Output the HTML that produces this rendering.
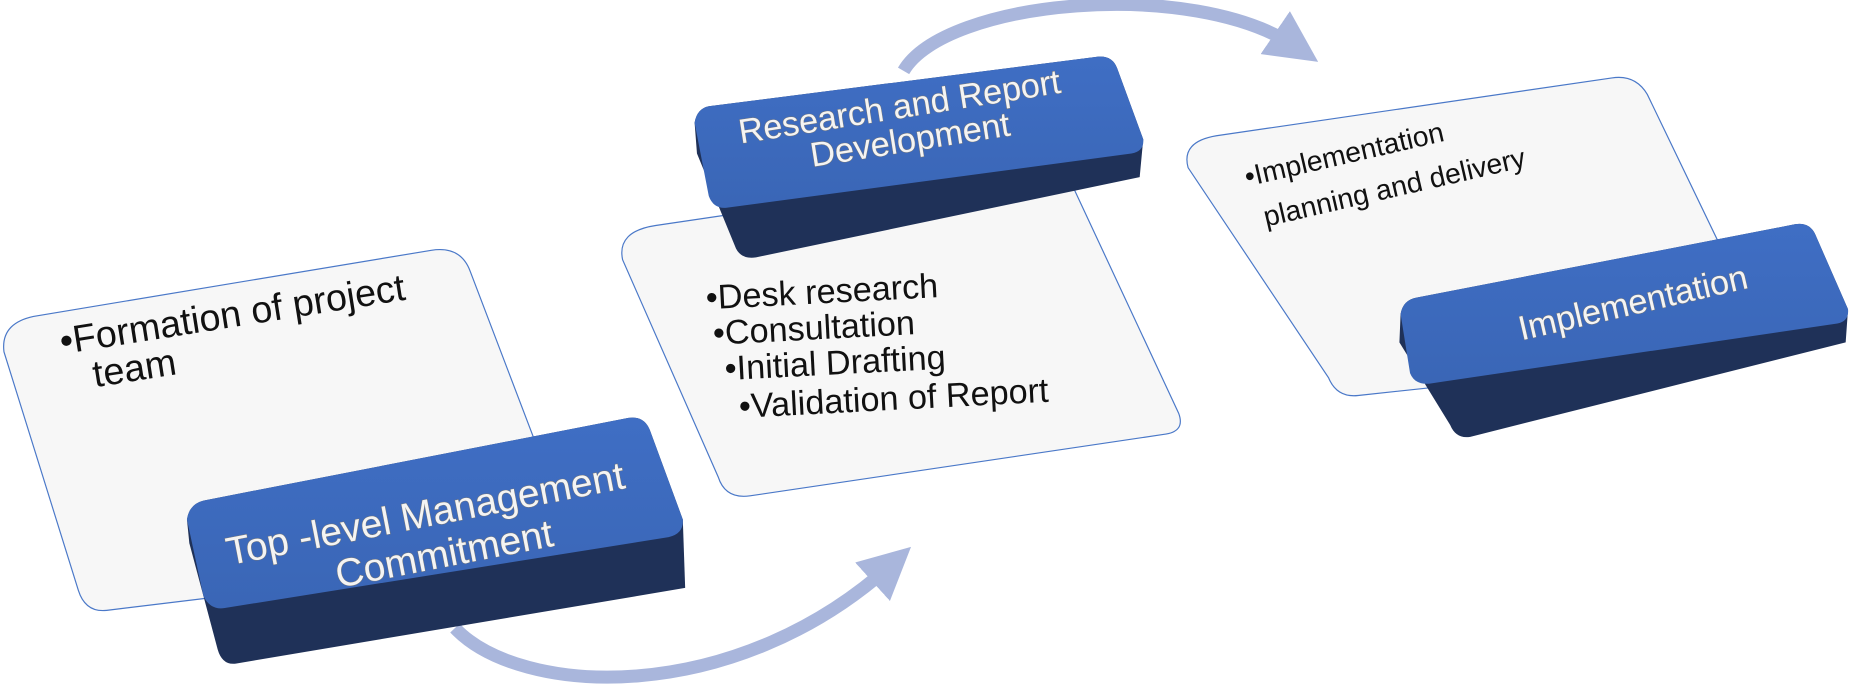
<!DOCTYPE html>
<html><head><meta charset="utf-8"><style>
html,body{margin:0;padding:0;background:#fff;width:1852px;height:693px;overflow:hidden}
svg{display:block}
.t{font-family:"Liberation Sans",sans-serif;fill:#111}
.w{font-family:"Liberation Sans",sans-serif;fill:#f4f4f4;stroke:#777;stroke-width:0.8;paint-order:stroke}
</style></head><body>
<svg width="1852" height="693" viewBox="0 0 1568 587" xmlns="http://www.w3.org/2000/svg">
<defs>
<marker id="ah" markerWidth="4" markerHeight="4" refX="2" refY="2" orient="auto" markerUnits="strokeWidth">
<path d="M0,0 L4,2 L0,4 z" fill="#a9b6dc"/></marker>
<linearGradient id="bt" x1="0" y1="0" x2="0" y2="1"><stop offset="0" stop-color="#3f6ec4"/><stop offset="1" stop-color="#3a66b6"/></linearGradient>
</defs>
<path d="M385,532 C440,590 620,600 755,478" fill="none" stroke="#a9b6dc" stroke-width="11" marker-end="url(#ah)"/>
<path d="M765,60 C800,0 1010,-20 1098,40" fill="none" stroke="#a9b6dc" stroke-width="11" marker-end="url(#ah)"/>

<path d="M28,268 L365,212 Q390,208 398,230 L478,440 L478,470 L90,517 Q72,519 66,500 L3,298 Q0,274 28,268 Z" fill="#f7f7f7" stroke="#4a78c8" stroke-width="1"/>
<path d="M555,191 L900,140 L998,350 Q1004,366 985,368 L635,420 Q614,423 608,404 L527,220 Q522,196 555,191 Z" fill="#f7f7f7" stroke="#4a78c8" stroke-width="1"/>
<path d="M1030,115 L1365,66 Q1385,63 1395,80 L1460,215 L1290,320 L1150,335 Q1132,337 1125,320 L1006,142 Q1000,120 1030,115 Z" fill="#f7f7f7" stroke="#4a78c8" stroke-width="1"/>

<path d="M172,424 L532,354 Q545,352 550,364 L578,440 L580,498 L200,562 Q188,564 184,550 L160,460 L158,440 Q160,427 172,424 Z" fill="#1f3158"/>
<path d="M172,424 L532,354 Q545,352 550,364 L578,440 Q579,452 566,455 L190,515 Q178,517 172,505 L158,440 Q160,427 172,424 Z" fill="url(#bt)"/>
<path d="M600,90 L930,48 Q942,47 946,58 L968,118 L965,150 L640,218 Q626,220 622,208 L590,130 L588,104 Q590,92 600,90 Z" fill="#1f3158"/>
<path d="M600,90 L930,48 Q942,47 946,58 L968,118 Q969,128 958,130 L615,176 Q604,177 600,166 L588,104 Q590,92 600,90 Z" fill="url(#bt)"/>
<path d="M1200,252 L1520,190 Q1532,188 1537,198 L1565,262 L1563,290 L1245,370 Q1233,372 1228,360 L1185,290 L1186,266 Q1188,254 1200,252 Z" fill="#1f3158"/>
<path d="M1200,252 L1520,190 Q1532,188 1537,198 L1565,262 Q1566,272 1556,274 L1210,325 Q1198,326 1194,316 L1186,266 Q1188,254 1200,252 Z" fill="url(#bt)"/>

<g class="t" font-size="32">
<text transform="translate(52,300) rotate(-9)">•Formation of project</text>
<text transform="translate(80,328) rotate(-9)">team</text>
</g>
<g class="t" font-size="29">
<text transform="translate(598,262) rotate(-3)">•Desk research</text>
<text transform="translate(604,292) rotate(-3)">•Consultation</text>
<text transform="translate(614,322) rotate(-3)">•Initial Drafting</text>
<text transform="translate(626,354) rotate(-3)">•Validation of Report</text>
</g>
<g class="t" font-size="24">
<text transform="translate(1056,158) rotate(-13)">•Implementation</text>
<text transform="translate(1072,192) rotate(-13)">planning and delivery</text>
</g>
<g class="w" font-size="33" text-anchor="middle">
<text transform="translate(362,446) rotate(-11)">Top -level Management</text>
<text transform="translate(378,480) rotate(-11)">Commitment</text>
</g>
<g class="w" font-size="29" text-anchor="middle">
<text transform="translate(763,100) rotate(-9)">Research and Report</text>
<text transform="translate(772,128) rotate(-9)">Development</text>
</g>
<g class="w" font-size="29" text-anchor="middle">
<text transform="translate(1385,266) rotate(-13)">Implementation</text>
</g>
</svg>
</body></html>
